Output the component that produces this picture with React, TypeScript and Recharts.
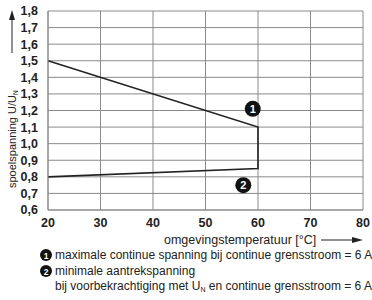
import React from "react";
import { LineChart, Line, XAxis, YAxis, CartesianGrid, ReferenceDot } from "recharts";

// curve: max voltage (20 -> 60 °C), drop at 60 °C, min pick-up voltage back to 20 °C
const curveTemps = [20, 60, 60, 20];
const curveValues = [1.5, 1.1, 0.85, 0.8];

const xTicks = [20, 30, 40, 50, 60, 70, 80];
const yTicks = [0.6, 0.7, 0.8, 0.9, 1.0, 1.1, 1.2, 1.3, 1.4, 1.5, 1.6, 1.7, 1.8];

const markers = [
  { label: "1", x: 59, y: 1.21 },
  { label: "2", x: 57.2, y: 0.75 },
];

const legendLines = [
  "maximale continue spanning bij continue grensstroom = 6 A",
  "minimale aantrekspanning",
];

const data = curveTemps.map((t, i) => ({ t, v: curveValues[i] }));

const FONT = "'Liberation Sans', Arial, sans-serif";
const GRID = "#8a8a8a";
const INK = "#222";

const fmt = (v: number) => v.toFixed(1).replace(".", ",");

function Marker(props: { cx?: number; cy?: number; label: string }) {
  const { cx = 0, cy = 0, label } = props;
  return (
    <g>
      <circle cx={cx} cy={cy} r={8} fill="#111" />
      <text x={cx} y={cy + 4} textAnchor="middle" fill="#fff" fontSize={11} fontWeight="bold" fontFamily={FONT}>
        {label}
      </text>
    </g>
  );
}

export default function App() {
  return (
    <div style={{ position: "absolute", left: 0, top: 0, width: 372, height: 300, background: "#fff" }}>
      <LineChart width={372} height={300} data={data} margin={{ top: 11, right: 9, bottom: 0, left: 0 }}>
        <CartesianGrid stroke={GRID} strokeWidth={1} />
        <XAxis
          dataKey="t"
          type="number"
          domain={[20, 80]}
          ticks={xTicks}
          interval={0}
          height={90}
          tickLine={false}
          axisLine={{ stroke: GRID }}
          tick={{ fontSize: 12.5, fontWeight: "bold", fill: INK, fontFamily: FONT }}
          tickMargin={2}
        />
        <YAxis
          type="number"
          domain={[0.6, 1.8]}
          ticks={yTicks}
          interval={0}
          width={48}
          tickLine={false}
          axisLine={{ stroke: GRID }}
          tickFormatter={fmt}
          tick={{ fontSize: 12.5, fontWeight: "bold", fill: INK, fontFamily: FONT }}
          tickMargin={4}
        />
        <Line
          dataKey="v"
          type="linear"
          stroke="#222"
          strokeWidth={1.6}
          dot={false}
          isAnimationActive={false}
        />
        {markers.map((m) => (
          <ReferenceDot key={m.label} x={m.x} y={m.y} r={8} shape={(p: any) => <Marker {...p} label={m.label} />} />
        ))}
      </LineChart>
      <svg width={372} height={300} style={{ position: "absolute", left: 0, top: 0, pointerEvents: "none" }}>
        <g fontFamily={FONT} fill={INK} fontSize={12}>
          {/* y axis title + arrow */}
          <line x1={12} y1={53} x2={12} y2={18} stroke={INK} strokeWidth={1} />
          <polygon points="12,10 9,20 15,20" fill={INK} />
          <text transform="translate(16,188) rotate(-90)" fontSize={11}>
            spoelspanning U/U<tspan fontSize={6.5} dy={2}>N</tspan>
          </text>
          {/* x axis title + arrow */}
          <text x={164} y={244} fontSize={12.5}>omgevingstemperatuur [°C]</text>
          <line x1={321} y1={240} x2={353} y2={240} stroke={INK} strokeWidth={1} />
          <polygon points="363,240 352,237 352,243" fill={INK} />
          {/* legend */}
          {legendLines.map((s, i) => (
            <g key={i}>
              <circle cx={46} cy={255 + i * 16} r={6} fill="#111" />
              <text x={46} y={258.5 + i * 16} textAnchor="middle" fill="#fff" fontSize={8.5} fontWeight="bold">
                {i + 1}
              </text>
              <text x={55} y={259 + i * 16}>{s}</text>
            </g>
          ))}
          <text x={55} y={290}>
            bij voorbekrachtiging met U<tspan fontSize={7} dy={2}>N</tspan>
            <tspan dy={-2}> en continue grensstroom = 6 A</tspan>
          </text>
        </g>
      </svg>
    </div>
  );
}
